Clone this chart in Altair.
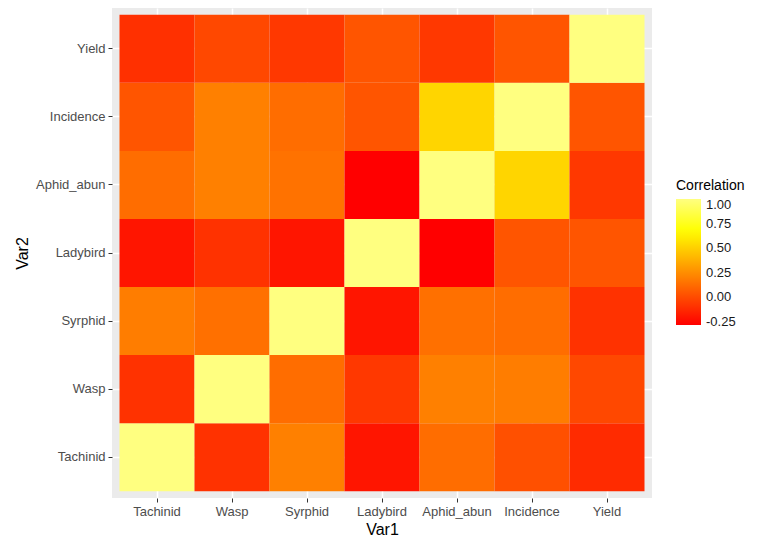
import altair as alt
import pandas as pd

variables = ["Tachinid", "Wasp", "Syrphid", "Ladybird", "Aphid_abun", "Incidence", "Yield"]

# one list per Var2 row; values across Var1 columns in the order of `variables`
row_tachinid = [1.00, -0.09, 0.20, -0.20, 0.13, 0.02, -0.12]
row_wasp = [-0.09, 1.00, 0.13, -0.07, 0.20, 0.19, -0.01]
row_syrphid = [0.19, 0.14, 1.00, -0.20, 0.14, 0.13, -0.09]
row_ladybird = [-0.20, -0.09, -0.20, 1.00, -0.28, 0.04, 0.04]
row_aphid = [0.13, 0.20, 0.15, -0.28, 1.00, 0.52, -0.07]
row_incidence = [0.04, 0.20, 0.13, 0.04, 0.52, 1.00, 0.04]
row_yield = [-0.10, -0.01, -0.07, 0.04, -0.07, 0.04, 1.00]

rows = [row_tachinid, row_wasp, row_syrphid, row_ladybird, row_aphid, row_incidence, row_yield]

records = []
for v2, vals in zip(variables, rows):
    for v1, val in zip(variables, vals):
        records.append({"Var1": v1, "Var2": v2, "value": val})
df = pd.DataFrame(records)

color_stops = [-0.28, 0.04, 0.36, 0.68, 1.0]
color_range = ["#FF0000", "#FF5500", "#FFAA00", "#FFFF00", "#FFFF80"]
legend_values = [-0.25, 0.0, 0.25, 0.5, 0.75, 1.0]

FONT = "Liberation Sans"

chart = (
    alt.Chart(df)
    .mark_rect()
    .encode(
        x=alt.X(
            "Var1:N",
            sort=variables,
            scale=alt.Scale(paddingInner=0, paddingOuter=0.1),
            axis=alt.Axis(title="Var1", labelAngle=0, titlePadding=3, zindex=0),
        ),
        y=alt.Y(
            "Var2:N",
            sort=variables[::-1],
            scale=alt.Scale(paddingInner=0, paddingOuter=0.1),
            axis=alt.Axis(title="Var2", titleX=-90, titleY=245, titleAlign="center",
                          titleBaseline="middle", titleAngle=-90, zindex=0),
        ),
        color=alt.Color(
            "value:Q",
            scale=alt.Scale(domain=color_stops, range=color_range, interpolate="rgb"),
            legend=alt.Legend(
                title="Correlation",
                type="gradient",
                values=legend_values,
                labelExpr="replace(format(datum.value, '.2f'), '\u2212', '-')",
                orient="none",
                legendX=564,
                legendY=171,
                gradientLength=126,
                gradientThickness=25,
                gradientStrokeWidth=0,
                titleFontSize=14,
                titleFontWeight="normal",
                titleColor="#000000",
                titleFont=FONT,
                titlePadding=6,
                labelFontSize=13,
                labelColor="#1A1A1A",
                labelFont=FONT,
                labelOffset=5,
            ),
        ),
    )
    .properties(
        width=540,
        height=490,
        autosize=alt.AutoSizeParams(type="none"),
        padding={"left": 104, "top": 0, "right": 100, "bottom": 40},
    )
    .configure_view(fill="#EBEBEB", strokeWidth=0)
    .configure_axis(
        domain=False,
        grid=True,
        gridColor="#FFFFFF",
        gridWidth=1.5,
        tickColor="#333333",
        tickSize=4,
        tickWidth=1,
        labelColor="#4D4D4D",
        labelFontSize=13,
        labelFont=FONT,
        labelPadding=3,
        titleFontSize=16,
        titleFontWeight="normal",
        titleColor="#000000",
        titleFont=FONT,
    )
)

chart.save("out.html", embed_options={"renderer": "svg", "actions": False})
